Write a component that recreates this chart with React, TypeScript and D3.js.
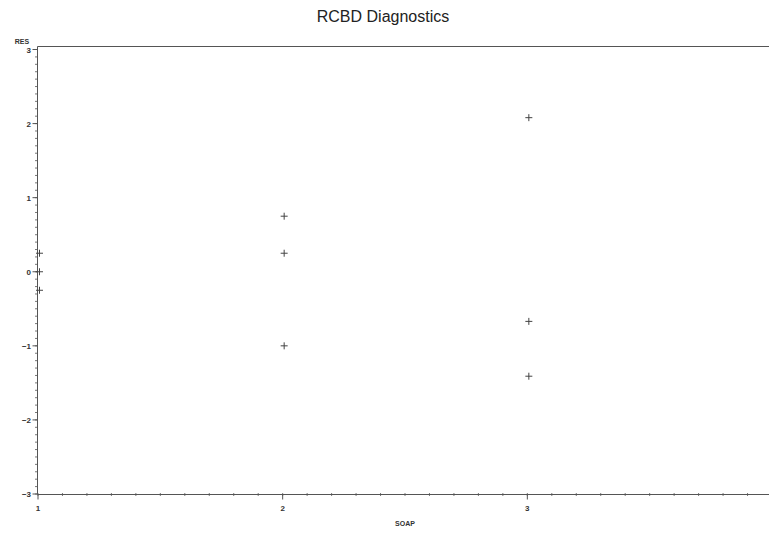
import React from "react";
import * as d3 from "d3";

const soapLevels = [1, 2, 3, 4];
const soap = [1, 1, 1, 2, 2, 2, 3, 3, 3, 4, 4, 4];
const residuals = [0.25, 0, -0.25, 0.75, 0.25, -1, 2.08, -0.67, -1.41, 1.65, 0.92, -2.57];
const yTicks = [-3, -2, -1, 0, 1, 2, 3];
const title = "RCBD Diagnostics";
const yLabel = "RES";
const xLabel = "SOAP";

const W = 769;
const H = 533;

export default function App() {
  const x = d3.scaleLinear().domain([1, 4]).range([38, 772]);
  const y = d3.scaleLinear().domain([-3, 3]).range([494, 49.5]);
  const axisY = y(-3) + 0.5;
  const axisX = 37.5;
  const topY = 46.5;
  const ink = "#555";
  const textC = "#333";

  const xMinor = d3.range(1, 4.001, 0.1).map((v) => Math.round(v * 10) / 10);
  const yMinor = d3.range(-3, 3.001, 0.1).map((v) => Math.round(v * 10) / 10);

  return (
    <svg
      width={W}
      height={H}
      style={{ position: "absolute", left: 0, top: 0, background: "#fff" }}
      fontFamily="'Liberation Sans', Arial, sans-serif"
    >
      <rect x={0} y={0} width={W} height={H} fill="#fff" />
      <text x={383} y={22} textAnchor="middle" fontSize={16} fill="#222">
        {title}
      </text>
      {/* frame */}
      <line x1={axisX} x2={W} y1={topY} y2={topY} stroke={ink} strokeWidth={1} />
      <line x1={axisX} x2={axisX} y1={topY} y2={axisY} stroke={ink} strokeWidth={1} />
      <line x1={axisX} x2={W} y1={axisY} y2={axisY} stroke={ink} strokeWidth={1} />
      {/* y minor ticks */}
      {yMinor.map((v) => (
        <line key={"ym" + v} x1={axisX - 2.5} x2={axisX} y1={y(v)} y2={y(v)} stroke={ink} strokeWidth={0.8} />
      ))}
      {yTicks.map((v) => (
        <g key={"yt" + v}>
          <line x1={axisX - 5} x2={axisX} y1={y(v)} y2={y(v)} stroke={ink} strokeWidth={1} />
          <text x={31} y={y(v) + 3} textAnchor="end" fontSize={8} fontWeight="bold" fill={textC}>
            {v < 0 ? "\u2212" + Math.abs(v) : v}
          </text>
        </g>
      ))}
      {/* x minor ticks */}
      {xMinor.map((v) => (
        <line key={"xm" + v} x1={x(v)} x2={x(v)} y1={axisY - 1.5} y2={axisY + 1.5} stroke={ink} strokeWidth={0.8} />
      ))}
      {soapLevels.map((v) => (
        <g key={"xt" + v}>
          <line x1={x(v)} x2={x(v)} y1={axisY} y2={axisY + 5} stroke={ink} strokeWidth={1} />
          {x(v) < W - 6 && (
            <text x={x(v)} y={511} textAnchor="middle" fontSize={8} fontWeight="bold" fill={textC}>
              {v}
            </text>
          )}
        </g>
      ))}
      <text x={22} y={44} textAnchor="middle" fontSize={7} fontWeight="bold" fill={textC}>
        {yLabel}
      </text>
      <text x={405} y={526} textAnchor="middle" fontSize={7} fontWeight="bold" fill={textC}>
        {xLabel}
      </text>
      {/* points */}
      {residuals.map((r, i) => {
        const cx = x(soap[i]) + 1.5;
        const cy = y(r);
        return (
          <g key={"p" + i} stroke="#444" strokeWidth={1}>
            <line x1={cx - 3.5} x2={cx + 3.5} y1={cy} y2={cy} />
            <line x1={cx} x2={cx} y1={cy - 3.5} y2={cy + 3.5} />
          </g>
        );
      })}
    </svg>
  );
}
